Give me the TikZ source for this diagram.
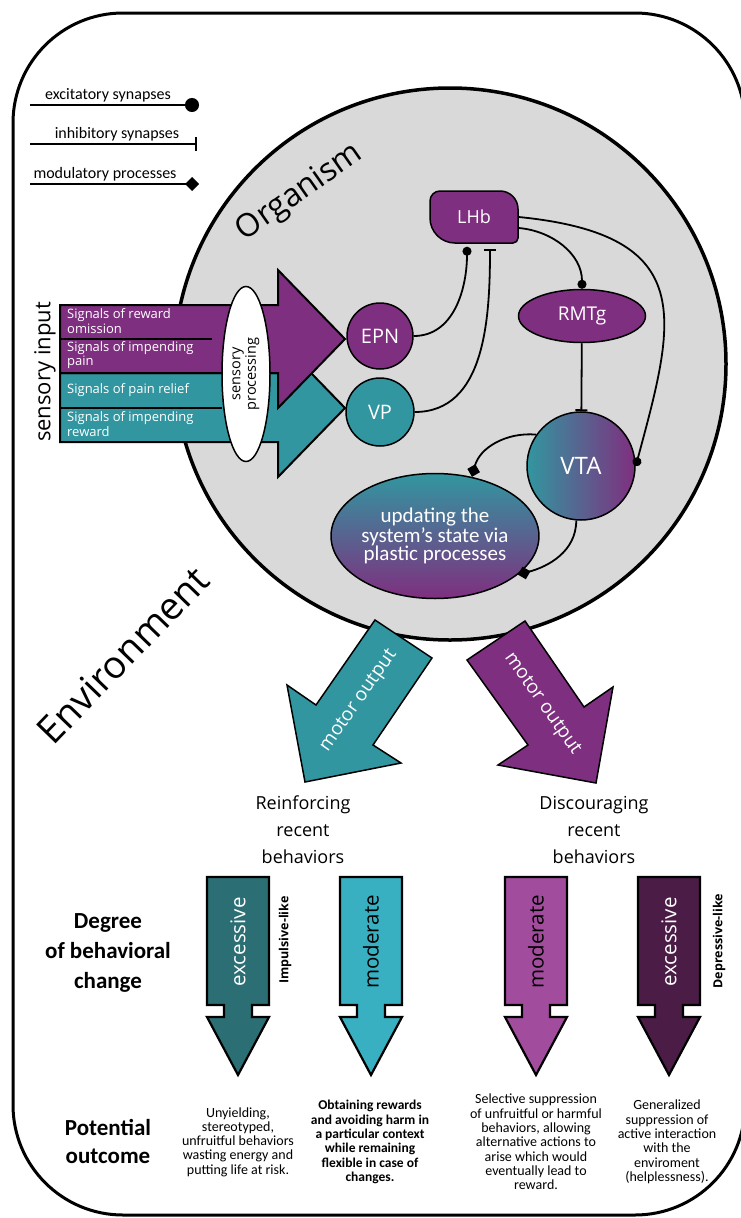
\documentclass[tikz,border=0pt]{standalone}
\usepackage{fontspec}
\setmainfont{Carlito}
\newfontfamily\osans{Open Sans}
\usetikzlibrary{arrows.meta,shapes.geometric}
\definecolor{purp}{HTML}{7F2F7F}
\definecolor{teal}{HTML}{3296A0}
\definecolor{circ}{HTML}{D9D9D9}
\definecolor{dteal}{HTML}{2B6E73}
\definecolor{lteal}{HTML}{38B0C1}
\definecolor{mpurp}{HTML}{A24C9E}
\definecolor{dpurp}{HTML}{4A1C46}

\begin{document}
\begin{tikzpicture}[x=1pt,y=-1pt,
  exc/.style={-{Circle[length=9pt]},line width=1.8pt},
  inh/.style={-{Bar[width=12pt,line width=2pt]},line width=1.8pt},
  mod/.style={-{Turned Square[length=13pt,width=13pt]},line width=1.8pt},
  nuc/.style={draw,line width=1.5pt,text=white,font=\osans\fontsize{20}{22}\selectfont,inner sep=0pt},
  sig/.style={anchor=west,align=left,text=white,font=\osans\fontsize{13}{14.5}\selectfont,inner sep=0pt},
  lgd/.style={font=\fontsize{16}{16}\selectfont,inner sep=0pt},
  deg/.style={rotate=90,font=\osans\fontsize{20.5}{22}\selectfont,inner sep=0pt},
  side/.style={rotate=90,font=\osans\bfseries\fontsize{12.5}{14}\selectfont,inner sep=0pt},
  res/.style={align=center,font=\fontsize{14}{14.3}\selectfont,inner sep=0pt}]
\useasboundingbox (0,0) rectangle (740,1218);

% environment frame and organism
\draw[line width=3pt,rounded corners=110pt] (13,13) rectangle (745,1215);
\draw[line width=3.5pt,fill=circ] (450,364) circle[radius=276pt];
\node[rotate=35,font=\osans\fontsize{32}{32}\selectfont] (org) at (300,193) {Organism};
\node[rotate=46,font=\osans\fontsize{38}{38}\selectfont] (env) at (123,655) {Environment};

% legend
\node[lgd] (lexc) at (108,95) {excitatory synapses};
\node[lgd] (linh) at (117,134) {inhibitory synapses};
\node[lgd] (lmod) at (105,174) {modulatory processes};
\coordinate (e0) at (30,105); \coordinate (e1) at (199,105);
\coordinate (i0) at (30,144); \coordinate (i1) at (197,144);
\coordinate (m0) at (30,184); \coordinate (m1) at (199,184);
\draw[line width=2.5pt,-{Circle[length=14pt]}] (e0) -- (e1);
\draw[line width=2.5pt,-{Bar[width=14pt,line width=2.5pt]}] (i0) -- (i1);
\draw[line width=2.5pt,-{Turned Square[length=14pt,width=14pt]}] (m0) -- (m1);

% sensory input
\node[rotate=90,font=\osans\fontsize{22}{22}\selectfont,inner sep=0pt] (sin) at (45,372) {sensory input};
\draw[line width=2pt,fill=teal] (60,373) -- (278,373) -- (278,339) -- (345,408) -- (278,477) -- (278,442) -- (60,442) -- cycle;
\draw[line width=2pt,fill=purp] (60,305) -- (278,305) -- (278,270) -- (345,339) -- (278,408) -- (278,373) -- (60,373) -- cycle;
\draw[line width=2pt] (60,339) -- (212,339);
\draw[line width=2pt] (60,408) -- (222,408);
\node[sig] (s1) at (67,321) {Signals of reward\\omission};
\node[sig] (s2) at (67,355) {Signals of impending\\pain};
\node[sig] (s3) at (67,390) {Signals of pain relief};
\node[sig] (s4) at (67,424) {Signals of impending\\reward};
\node[draw,ellipse,fill=white,line width=1.5pt,minimum width=175pt,minimum height=48pt,rotate=90,align=center,
  font=\osans\fontsize{14.5}{15.5}\selectfont,inner sep=0pt] (sp) at (246,374) {sensory\\processing};

% nuclei
\fill[purp,draw=black,line width=1.5pt] (440,191) -- (500,191) arc[start angle=90,end angle=0,radius=18pt]
  -- (518,238) arc[start angle=0,end angle=-90,radius=5pt]
  -- (455,243) arc[start angle=270,end angle=180,radius=25pt]
  -- (430,201) arc[start angle=180,end angle=90,radius=10pt] -- cycle;
\node[nuc,draw=none,minimum width=88pt,minimum height=52pt,font=\osans\fontsize{18}{20}\selectfont] (lhb) at (474,217) {LHb};
\node[nuc,circle,fill=purp,minimum size=66pt] (epn) at (380,336) {EPN};
\node[nuc,circle,fill=teal,minimum size=68pt] (vp) at (380,412) {VP};
\node[nuc,ellipse,fill=purp,minimum width=127pt,minimum height=53pt,font=\osans\fontsize{19}{20}\selectfont] (rmtg) at (582,316) {RMTg};
\node[nuc,circle,left color=teal,right color=purp,minimum size=108pt,font=\osans\fontsize{24}{26}\selectfont] (vta) at (581,466) {VTA};
\node[nuc,ellipse,top color=teal,bottom color=purp,minimum width=182pt,minimum height=125pt,align=center,
  font=\fontsize{21}{18}\selectfont] (upd) at (435,536) {updating the\\system's state via\\plastic processes};

% connections
\draw[exc] (epn.east) to[out=0,in=-90] ([xshift=-7pt,yshift=-3pt]lhb.south);
\draw[inh] (vp.east) to[out=0,in=-90] ([xshift=16pt,yshift=-5pt]lhb.south);
\draw[exc] ([yshift=-11pt]lhb.east) to[out=-5,in=90] (rmtg.north);
\draw[exc] (lhb.east) .. controls (700,235) and (675,320) .. (vta.east);
\draw[inh] (rmtg) -- (vta);
\draw[mod] (vta.145) to[out=175,in=75] (upd.58);
\draw[mod] (vta.265) to[out=-90,in=15] (upd.-25);

% motor output
\draw[line width=1.5pt,fill=teal] (375,620) -- (432,658) -- (373,745) -- (401,763) -- (305,782) -- (287,685) -- (316,705) -- cycle;
\draw[line width=1.5pt,fill=purp] (467,660) -- (525,621) -- (584,707) -- (613,687) -- (596,783) -- (498,765) -- (528,745) -- cycle;
\node[rotate=55,text=white,font=\osans\fontsize{19}{20}\selectfont] (mo1) at (359,701) {motor output};
\node[rotate=-55,text=white,font=\osans\fontsize{19}{20}\selectfont] (mo2) at (542,704) {motor output};
\node[align=center,font=\osans\fontsize{18}{27}\selectfont] (reinf) at (303,830) {Reinforcing\\recent\\behaviors};
\node[align=center,font=\osans\fontsize{18}{27}\selectfont] (disc) at (594,830) {Discouraging\\recent\\behaviors};

% degree of change
\node[align=center,font=\bfseries\fontsize{23}{30}\selectfont] (degree) at (108,953) {Degree\\of behavioral\\change};
\node[align=center,font=\bfseries\fontsize{23}{28}\selectfont] (pot) at (108,1141) {Potential\\outcome};
\foreach \i/\x/\c/\t/\tc in {1/238/dteal/excessive/white,2/371/lteal/moderate/black,3/536/mpurp/moderate/black,4/669/dpurp/excessive/white}{
  \draw[line width=2.2pt,fill=\c] (\x-31,877) -- (\x+31,877) -- (\x+31,1005) -- (\x+14,1005) -- (\x+14,1017) -- (\x+31,1017)
    -- (\x,1075) -- (\x-31,1017) -- (\x-14,1017) -- (\x-14,1005) -- (\x-31,1005) -- cycle;
  \node[deg,text=\tc] (d\i) at (\x,942) {\t};
}
\node[side] (imp) at (285,940) {Impulsive-like};
\node[side] (dep) at (719,941) {Depressive-like};

% outcomes
\node[res] (o1) at (238,1142) {Unyielding,\\stereotyped,\\unfruitful behaviors\\wasting energy and\\putting life at risk.};
\node[res,font=\bfseries\fontsize{13.5}{14.3}\selectfont] (o2) at (370,1142) {Obtaining rewards\\and avoiding harm in\\a particular context\\while remaining\\flexible in case of\\changes.};
\node[res] (o3) at (536,1142) {Selective suppression\\of unfruitful or harmful\\behaviors, allowing\\alternative actions to\\arise which would\\eventually lead to\\reward.};
\node[res] (o4) at (667,1142) {Generalized\\suppression of\\active interaction\\with the\\enviroment\\(helplessness).};
\end{tikzpicture}
\end{document}
